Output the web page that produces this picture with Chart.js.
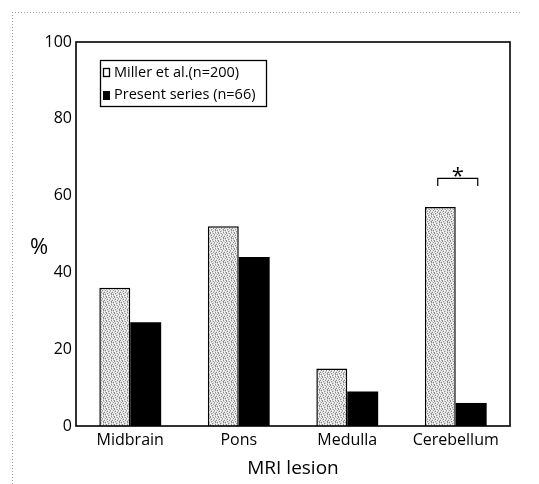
<!DOCTYPE html>
<html>
<head>
<meta charset="utf-8">
<script src="https://cdn.jsdelivr.net/npm/chart.js@4"></script>
<style>
  html, body { margin: 0; padding: 0; background: #fff; }
  #wrap { width: 539px; height: 484px; position: relative; }
</style>
</head>
<body>
<div id="wrap"><canvas id="chart"></canvas></div>
<script>
// data
const categories = ["Midbrain", "Pons", "Medulla", "Cerebellum"];
const millerValues = [36, 52, 15, 57];
const presentValues = [27, 44, 9, 6];
const seriesLabels = ["Miller et al.(n=200)", "Present series (n=66)"];
const yTicks = [0, 20, 40, 60, 80, 100];
const FONT = "'Open Sans', 'DejaVu Sans', sans-serif";

// speckled grey fill like the printed stipple
function stipple() {
  const rows = [
    "lmdlmlld",
    "mldlmdlm",
    "ldlmlldl",
    "mlmdlmml",
    "dlmlldlm",
    "lmldmlmd",
    "mdlmlmld",
    "lmlldmlm"
  ];
  const cols = { l: "#f2f2f2", m: "#cacaca", d: "#909090" };
  const c = document.createElement("canvas");
  c.width = 8; c.height = 8;
  const g = c.getContext("2d");
  rows.forEach((r, y) => {
    for (let x = 0; x < r.length; x++) {
      g.fillStyle = cols[r[x]];
      g.fillRect(x, y, 1, 1);
    }
  });
  return g.createPattern(c, "repeat");
}

const frame = {
  id: "frame",
  beforeDraw(chart) {
    const ctx = chart.ctx;
    ctx.save();
    // faint dotted scan border
    ctx.strokeStyle = "#9a9a9a";
    ctx.lineWidth = 1;
    ctx.setLineDash([1, 2]);
    ctx.beginPath();
    ctx.moveTo(12, 12.5); ctx.lineTo(522, 12.5);
    ctx.moveTo(12.5, 12); ctx.lineTo(12.5, 484);
    ctx.stroke();
    ctx.restore();
  },
  afterDatasetsDraw(chart) {
    const { ctx, chartArea: a, scales } = chart;
    ctx.save();
    // plot box
    ctx.strokeStyle = "#000";
    ctx.lineWidth = 1.6;
    ctx.strokeRect(a.left, a.top, a.right - a.left, a.bottom - a.top);

    // "%" axis label
    ctx.fillStyle = "#000";
    ctx.font = "22px " + FONT;
    ctx.textAlign = "center";
    ctx.textBaseline = "middle";
    ctx.fillText("%", 39, 248);

    // legend
    ctx.lineWidth = 1.3;
    ctx.strokeRect(100.5, 60.5, 166, 46);
    ctx.font = "14.5px " + FONT;
    ctx.textAlign = "left";
    const ys = [73, 95];
    chart.data.datasets.forEach((ds, i) => {
      const y = ys[i];
      if (i === 0) {
        ctx.fillStyle = "#fff";
        ctx.fillRect(103.5, y - 4.5, 6, 8);
        ctx.strokeRect(103.5, y - 4.5, 6, 8);
      } else {
        ctx.fillStyle = "#000";
        ctx.fillRect(103, y - 4, 7, 9);
      }
      ctx.fillStyle = "#000";
      ctx.fillText(ds.label, 114, y);
    });

    // significance bracket over Cerebellum
    const g = chart.getDatasetMeta(0).data[3];
    const b = chart.getDatasetMeta(1).data[3];
    const cx = (g.x + b.x) / 2 + 2;
    const yTop = scales.y.getPixelForValue(64.5);
    const yLeg = scales.y.getPixelForValue(62.5);
    ctx.lineWidth = 1.2;
    ctx.beginPath();
    ctx.moveTo(cx - 20, yLeg);
    ctx.lineTo(cx - 20, yTop);
    ctx.lineTo(cx + 20, yTop);
    ctx.lineTo(cx + 20, yLeg);
    ctx.stroke();
    ctx.font = "22px " + FONT;
    ctx.textAlign = "center";
    ctx.fillText("*", cx, scales.y.getPixelForValue(66) + 4);
    ctx.restore();
  }
};

new Chart(document.getElementById("chart"), {
  type: "bar",
  data: {
    labels: categories,
    datasets: [
      {
        label: seriesLabels[0],
        data: millerValues,
        backgroundColor: stipple(),
        borderColor: "#000",
        borderWidth: 1.5
      },
      {
        label: seriesLabels[1],
        data: presentValues,
        backgroundColor: "#000",
        borderColor: "#000",
        borderWidth: 0
      }
    ]
  },
  options: {
    responsive: true,
    maintainAspectRatio: false,
    animation: false,
    categoryPercentage: 0.57,
    barPercentage: 1.0,
    layout: { padding: { top: 42, right: 29, bottom: 0, left: 0 } },
    plugins: {
      legend: { display: false },
      tooltip: { enabled: false }
    },
    scales: {
      x: {
        grid: { display: false, drawTicks: false },
        border: { display: false },
        ticks: { color: "#000", padding: 5, font: { family: FONT, size: 16 } },
        title: {
          display: true,
          text: "MRI lesion",
          color: "#000",
          font: { family: FONT, size: 19 },
          padding: { top: 0, bottom: 4 }
        },
        afterFit(scale) { scale.height = 58; }
      },
      y: {
        min: 0,
        max: 100,
        grid: { display: false, drawTicks: false },
        border: { display: false },
        afterBuildTicks(scale) { scale.ticks = yTicks.map(v => ({ value: v })); },
        ticks: { color: "#000", padding: 4, font: { family: FONT, size: 16 } },
        afterFit(scale) { scale.width = 76; }
      }
    }
  },
  plugins: [frame]
});
</script>
</body>
</html>
